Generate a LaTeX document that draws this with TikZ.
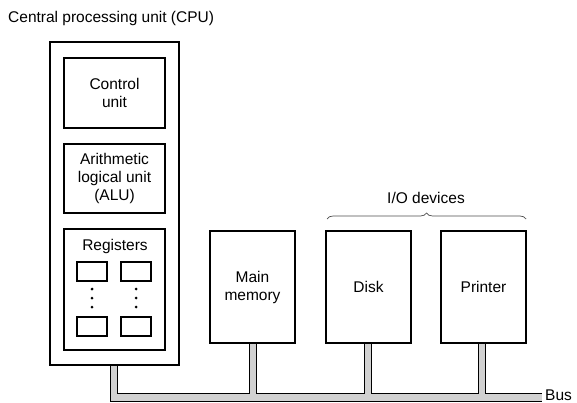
\documentclass[tikz,border=0pt]{standalone}
\usepackage{fontspec}
\setmainfont{Liberation Sans}
\usetikzlibrary{decorations.pathreplacing}
\tikzset{
    block/.style={draw, line width=1.3pt, align=center, inner sep=0pt},
    reg/.style={draw, line width=1.1pt, minimum width=30pt, minimum height=19pt, inner sep=0pt},
    busline/.style={line width=8.5pt},
    busfill/.style={line width=6.5pt, draw=black!18},
}
\newcommand{\Block}[6]{% name,left,top,right,bottom,text
    \node[block, minimum width={(#4-#2)*1pt}, minimum height={(#5-#3)*1pt}] (#1) at ({(#2+#4)/2},{(#3+#5)/2}) {#6};
}
\newcommand{\Reg}[3]{% name,left,top
    \node[reg] (#1) at ({#2+15},{#3+9.5}) {};
}
\newcommand{\VDots}[2]{% x,top
    \foreach \k in {0,1,2}
        \fill ({#1},{#2+9*\k}) circle (1.5pt);
}

\begin{document}
\begin{tikzpicture}[x=1pt,y=-1pt,font=\fontsize{15.5}{18}\selectfont]
        \useasboundingbox (0,0) rectangle (577,403);

        % bus first, boxes on top
        \coordinate (cpustub) at (114,365);
        \coordinate (busend) at (542,397.5);
        \foreach \sty in {busline,busfill}
            \draw[\sty] (cpustub) |- (busend)
                (253,343) -- (253,397.5)
                (368,343) -- (368,397.5)
                (482,343) -- (482,397.5);
        \node[anchor=west, inner sep=0pt] (bus) at (545,395.5) {Bus};

        \node[anchor=west, inner sep=0pt] (title) at (8,18) {Central processing unit (CPU)};
        \Block{cpu}{50}{42}{179}{365}{}
        \Block{cu}{64}{58}{165}{128}{Control\\unit}
        \Block{alu}{64}{144}{165}{213}{Arithmetic\\logical unit\\(ALU)}
        \Block{regs}{64}{229}{165}{350}{}
        \node (reglabel) at (115,246) {Registers};
        \Reg{r1}{77}{262}
        \Reg{r2}{121}{262}
        \Reg{r3}{77}{317}
        \Reg{r4}{121}{317}
        \VDots{92}{289}
        \VDots{136}{289}

        \Block{mem}{210}{231}{295}{343}{Main\\memory}
        \Block{disk}{326}{231}{411}{343}{Disk}
        \Block{prn}{441}{231}{526}{343}{Printer}

        \draw[black!70, line width=0.7pt, decorate, decoration={brace, amplitude=6pt}]
            (327,219) -- (526,219);
        \node (io) at (426,198) {I/O devices};
\end{tikzpicture}
\end{document}
